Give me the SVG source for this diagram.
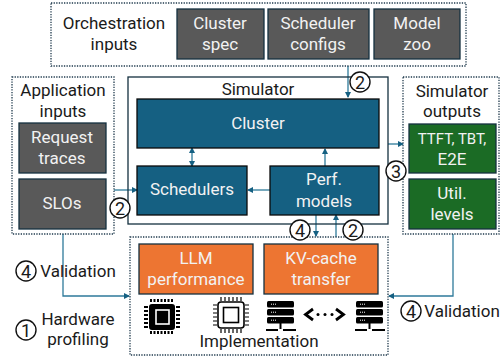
<svg xmlns="http://www.w3.org/2000/svg" width="500" height="356" viewBox="0 0 500 356">
<style>
text{font-family:Roboto,"Open Sans","Liberation Sans",sans-serif;font-size:17px;text-anchor:middle}
.d{fill:#1a1a1a}.w{fill:#f2f2f2}
.g{fill:none;stroke:#1f3a4d;stroke-width:1.3;stroke-dasharray:1.3 1.3}
.gy{fill:#595959;stroke:#14303f;stroke-width:1.3}
.bl{fill:#156082;stroke:#0a0a0a;stroke-width:1.3}
.gr{fill:#1b6b25;stroke:#14303f;stroke-width:1.3}
.or{fill:#ed7532;stroke:#14303f;stroke-width:1.3}
.c{fill:#fff;stroke:#111;stroke-width:1.4}
.n{font-size:18px}
.cn{fill:none;stroke:#2e7a9a;stroke-width:1.3}
.ch{fill:#000}
</style>
<defs>
<marker id="a" markerWidth="6" markerHeight="6" refX="5" refY="3" orient="auto-start-reverse" markerUnits="userSpaceOnUse"><path d="M0 0L6 3L0 6Z" fill="#156082"/></marker>
<g id="server"><rect x="0" y="0" width="27" height="6.5" rx="1.5" class="ch"/><rect x="0" y="8" width="27" height="6.5" rx="1.5" class="ch"/><rect x="0" y="16" width="27" height="6.5" rx="1.5" class="ch"/><path d="M4 3.2h6M4 11.2h6M4 19.2h6" stroke="#fff" stroke-width="1" stroke-dasharray="1 1"/><path d="M13.5 22v6" stroke="#000" stroke-width="2"/><path d="M-1 29h12M16 29h13" stroke="#000" stroke-width="2" fill="none"/></g>
</defs>
<g id="connectors">
<path class="cn" d="M348 66V97" marker-end="url(#a)"/>
<path class="cn" d="M388 144H403" marker-end="url(#a)"/>
<path class="cn" d="M114 190H137" marker-end="url(#a)"/>
<path class="cn" d="M192 148V166" marker-start="url(#a)" marker-end="url(#a)"/>
<path class="cn" d="M325 166V149" marker-end="url(#a)"/>
<path class="cn" d="M270 190H248" marker-end="url(#a)"/>
<path class="cn" d="M316 215V236" marker-end="url(#a)"/>
<path class="cn" d="M336 237V215" marker-end="url(#a)"/>
<path class="cn" d="M63 234V296H129" marker-end="url(#a)"/>
<path class="cn" d="M453 234V296H389" marker-end="url(#a)"/>
</g>
<g id="orchestration"><rect class="g" x="51" y="3" width="415" height="63"/><text class="d" x="114" y="29">Orchestration</text><text class="d" x="114" y="50">inputs</text></g>
<g id="cluster-spec"><rect class="gy" x="177" y="9" width="87" height="50"/><text class="w" x="220" y="29">Cluster</text><text class="w" x="220" y="50">spec</text></g>
<g id="scheduler-configs"><rect class="gy" x="268" y="9" width="101" height="50"/><text class="w" x="318" y="29">Scheduler</text><text class="w" x="318" y="50">configs</text></g>
<g id="model-zoo"><rect class="gy" x="374" y="9" width="86" height="50"/><text class="w" x="417" y="29">Model</text><text class="w" x="417" y="50">zoo</text></g>
<g id="application"><rect class="g" x="12" y="77" width="102" height="157"/><text class="d" x="63" y="96">Application</text><text class="d" x="63" y="117">inputs</text></g>
<g id="request-traces"><rect class="gy" x="19" y="123" width="87" height="50"/><text class="w" x="62" y="143">Request</text><text class="w" x="62" y="164">traces</text></g>
<g id="slos"><rect class="gy" x="19" y="179" width="87" height="50"/><text class="w" x="62" y="209">SLOs</text></g>
<g id="simulator"><rect x="128" y="77" width="260" height="147" fill="none" stroke="#14303f" stroke-width="1.3"/><text class="d" x="258" y="95">Simulator</text></g>
<g id="cluster"><rect class="bl" x="137" y="99" width="242" height="49"/><text class="w" x="258" y="129">Cluster</text></g>
<g id="schedulers"><rect class="bl" x="137" y="166" width="110" height="49"/><text class="w" x="192" y="195">Schedulers</text></g>
<g id="perf-models"><rect class="bl" x="270" y="166" width="109" height="49"/><text class="w" x="324" y="185">Perf.</text><text class="w" x="324" y="207">models</text></g>
<g id="outputs"><rect class="g" x="403" y="77" width="96" height="157"/><text class="d" x="452" y="97">Simulator</text><text class="d" x="452" y="117">outputs</text></g>
<g id="ttft"><rect class="gr" x="409" y="124" width="87" height="49"/><text class="w" x="452" y="144" style="font-size:15px">TTFT, TBT,</text><text class="w" x="452" y="165">E2E</text></g>
<g id="util"><rect class="gr" x="409" y="179" width="87" height="50"/><text class="w" x="452" y="199">Util.</text><text class="w" x="452" y="220">levels</text></g>
<g id="implementation"><rect class="g" x="130" y="237" width="258" height="118"/><text class="d" x="259" y="347">Implementation</text></g>
<g id="llm"><rect class="or" x="139" y="244" width="114" height="50"/><text class="w" x="196" y="264">LLM</text><text class="w" x="196" y="285">performance</text></g>
<g id="kv"><rect class="or" x="264" y="244" width="114" height="50"/><text class="w" x="321" y="264">KV-cache</text><text class="w" x="321" y="285">transfer</text></g>
<g id="chip-black"><rect x="149" y="304" width="26" height="26" rx="3" class="ch"/><rect x="156" y="310" width="13" height="14" fill="#000" stroke="#fff" stroke-width="1.6"/><path d="M151 299v3M154.500 299v3M158 299v3M161.500 299v3M165 299v3M168.500 299v3M172 299v3M151 331v3M154.500 331v3M158 331v3M161.500 331v3M165 331v3M168.500 331v3M172 331v3" stroke="#000" stroke-width="2"/><path d="M144 307h4M144 311h4M144 315h4M144 319h4M144 323h4M144 327h4M176 307h4M176 311h4M176 315h4M176 319h4M176 323h4M176 327h4" stroke="#000" stroke-width="2"/></g>
<g id="chip-white"><rect x="218" y="302" width="26" height="26" rx="3" fill="#fff" stroke="#000" stroke-width="1.6"/><rect x="223.500" y="307.500" width="15" height="15" fill="#fff" stroke="#000" stroke-width="1.6"/><path d="M221 297v4M225 297v4M229 297v4M233 297v4M237 297v4M241 297v4M221 329v4M225 329v4M229 329v4M233 329v4M237 329v4M241 329v4M213 305h4M213 309h4M213 313h4M213 317h4M213 321h4M213 325h4M245 305h4M245 309h4M245 313h4M245 317h4M245 321h4M245 325h4" stroke="#000" stroke-width="1.2"/></g>
<use id="server-a" href="#server" x="267" y="301"/>
<use id="server-b" href="#server" x="356" y="301"/>
<g id="link"><path d="M313 309L305.500 314.500L313 320M336 309L343.500 314.500L336 320" fill="none" stroke="#000" stroke-width="2.8"/><circle cx="318" cy="314.500" r="1.5"/><circle cx="325" cy="314.500" r="1.5"/><circle cx="332" cy="314.500" r="1.5"/></g>
<g id="marks">
<circle class="c" cx="360" cy="82" r="10"/><text class="d n" x="360" y="88.500">2</text>
<circle class="c" cx="396" cy="171" r="10"/><text class="d n" x="396" y="177.500">3</text>
<circle class="c" cx="120" cy="208" r="10"/><text class="d n" x="120" y="214.500">2</text>
<circle class="c" cx="300" cy="230" r="10"/><text class="d n" x="300" y="236.500">4</text>
<circle class="c" cx="353" cy="230" r="10"/><text class="d n" x="353" y="236.500">2</text>
<circle class="c" cx="26" cy="271" r="10"/><text class="d n" x="26" y="277.500">4</text>
<circle class="c" cx="26" cy="330" r="10"/><text class="d n" x="26" y="336.500">1</text>
<circle class="c" cx="411" cy="311" r="10"/><text class="d n" x="411" y="317.500">4</text>
<text class="d" x="78" y="277">Validation</text>
<text class="d" x="78" y="325">Hardware</text>
<text class="d" x="78" y="345">profiling</text>
<text class="d" x="462" y="317">Validation</text>
</g>
</svg>
